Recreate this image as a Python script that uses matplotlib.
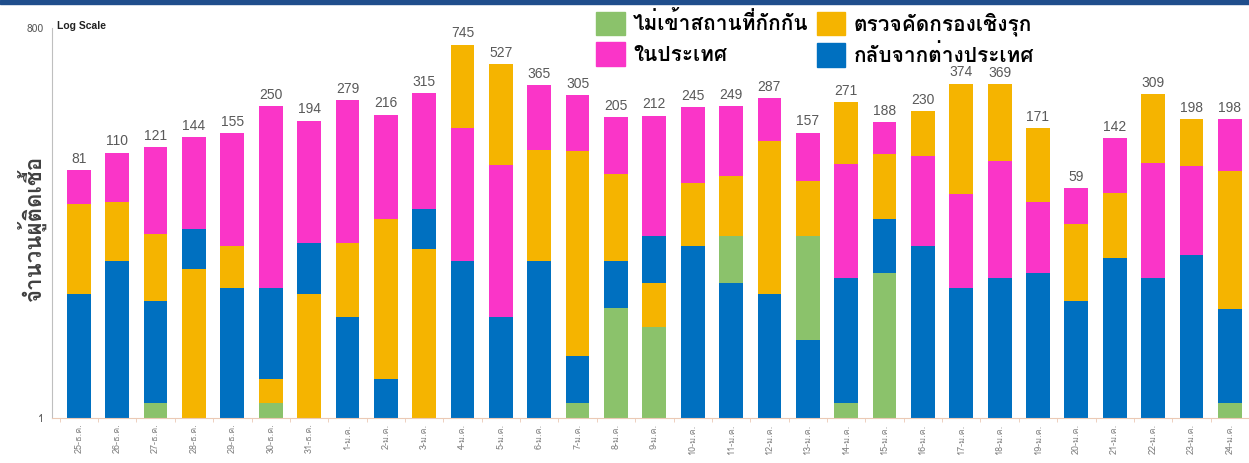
import matplotlib
matplotlib.use('Agg')
import matplotlib.pyplot as plt
from matplotlib import font_manager
from matplotlib.ft2font import FT2Font
from matplotlib.patches import Patch, Rectangle

dates = ['25-ธ.ค.', '26-ธ.ค.', '27-ธ.ค.', '28-ธ.ค.', '29-ธ.ค.', '30-ธ.ค.', '31-ธ.ค.',
         '1-ม.ค.', '2-ม.ค.', '3-ม.ค.', '4-ม.ค.', '5-ม.ค.', '6-ม.ค.', '7-ม.ค.', '8-ม.ค.',
         '9-ม.ค.', '10-ม.ค.', '11-ม.ค.', '12-ม.ค.', '13-ม.ค.', '14-ม.ค.', '15-ม.ค.',
         '16-ม.ค.', '17-ม.ค.', '18-ม.ค.', '19-ม.ค.', '20-ม.ค.', '21-ม.ค.', '22-ม.ค.',
         '23-ม.ค.', '24-ม.ค.']

# segment sizes (cumulative stacking)
green = [0, 0, 1.3, 0, 0, 1.3, 0, 0, 0, 0, 0, 0, 0, 1.3, 7, 5, 0, 14, 0, 21, 1.3, 13,
         0, 0, 0, 0, 0, 0, 0, 0, 1.3]
blue = [9, 16, 6.7, 14.4, 10, 8, 13, 6, 2, 20.5, 16, 6, 16, 1.7, 9, 14, 21, 11, 9, 4,
        10.6, 21, 21, 10, 12, 13, 8, 17, 12, 18, 5.6]
yellow = [35, 30, 18, 14, 11, 0.7, 9, 16, 32, 20, 576, 439, 99, 110, 59, 6, 43, 48, 126,
          42, 181.5, 73, 126, 321, 275, 125, 23, 37, 218, 111, 72.6]
pink = [37, 64, 95, 115.6, 134, 240, 172, 257, 182, 274.5, 153, 82, 250, 192, 130, 187,
        181, 176, 152, 90, 77.6, 81, 83, 43, 82, 33, 28, 88, 79, 69, 118.5]
totals = [81, 110, 121, 144, 155, 250, 194, 279, 216, 315, 745, 527, 365, 305, 205, 212,
          245, 249, 287, 157, 271, 188, 230, 374, 369, 171, 59, 142, 309, 198, 198]
# stacking order bottom -> top for each day
order = ['byp', 'byp', 'gbyp', 'ybp', 'byp', 'gybp', 'ybp', 'byp', 'byp', 'ybp', 'bpy',
         'bpy', 'byp', 'gbyp', 'gbyp', 'gybp', 'byp', 'bgyp', 'byp', 'bgyp', 'gbpy',
         'gbyp', 'bpy', 'bpy', 'bpy', 'bpy', 'byp', 'byp', 'bpy', 'bpy', 'gbyp']

labels = {'g': 'ไม่เข้าสถานที่กักกัน', 'p': 'ในประเทศ',
          'y': 'ตรวจคัดกรองเชิงรุก', 'b': 'กลับจากต่างประเทศ'}
colors = {'g': '#8BC26B', 'y': '#F5B400', 'p': '#FA35C8', 'b': '#0070C0'}
series = {'g': green, 'y': yellow, 'p': pink, 'b': blue}


def find_thai_font():
    for f in font_manager.fontManager.ttflist:
        try:
            if FT2Font(f.fname).get_char_index(0x0E01):
                return f.name
        except Exception:
            pass
    return 'DejaVu Sans'


thai = find_thai_font()
plt.rcParams['font.family'] = [thai, 'DejaVu Sans']

fig = plt.figure(figsize=(12.49, 4.63), dpi=100)
ax = fig.add_axes([52 / 1249, 1 - 418 / 463, 1 - 52 / 1249, 390 / 463])

for i in range(len(dates)):
    cum = 0
    for key in order[i]:
        top = cum + series[key][i]
        bottom = max(cum, 1)
        ax.bar(i, top - bottom, bottom=bottom, width=0.62, color=colors[key], linewidth=0)
        cum = top
    ax.annotate(str(totals[i]), (i, cum), xytext=(0, 3), textcoords='offset points',
                ha='center', va='bottom', fontsize=10, color='#595959',
                family=['Liberation Sans', 'DejaVu Sans'])

ax.set_yscale('log')
ax.set_ylim(1, 1000)
ax.set_xlim(-0.70, 30.31)
ax.set_yticks([1, 1000])
ax.set_yticklabels(['1', '800'])
ax.yaxis.set_minor_locator(plt.NullLocator())
ax.tick_params(axis='y', length=0, pad=6, labelsize=7.5, labelcolor='#595959')
ax.set_xticks(range(len(dates)))
ax.set_xticklabels(dates, rotation=90, fontsize=6.5, color='#808080')
ax.tick_params(axis='x', length=0, pad=4)
ax.set_xticks([i + 0.5 for i in range(-1, len(dates))], minor=True)
ax.tick_params(axis='x', which='minor', length=3, color='#EBC9B5')

for s in ['top', 'right']:
    ax.spines[s].set_visible(False)
ax.spines['left'].set_color('#BFBFBF')
ax.spines['bottom'].set_color('#EBC9B5')

fig.text(31 / 1249, 1 - 228 / 463, 'จำนวนผู้ติดเชื้อ', rotation=90, ha='center',
         va='center', fontsize=16, fontweight='bold', color='#404040')
fig.text(57 / 1249, 1 - 26 / 463, 'Log Scale', ha='left', va='center', fontsize=7.5,
         fontweight='bold', color='#222222', family=['Liberation Sans', 'DejaVu Sans'])

handles = [Patch(color=colors[k], label=labels[k]) for k in 'gpyb']
fig.legend(handles=handles, ncol=2, loc='upper left', bbox_to_anchor=(586 / 1249, 1 - 1 / 463),
           frameon=False, prop={'weight': 'bold', 'size': 15},
           handlelength=1.35, handleheight=1.35, handletextpad=0.4, labelspacing=0.35,
           columnspacing=0.42, borderpad=0)

fig.patches.append(Rectangle((0, 1 - 4 / 463), 1, 4 / 463, transform=fig.transFigure,
                             color='#1F4E8C', zorder=5))

fig.savefig('out.png', dpi=100)
